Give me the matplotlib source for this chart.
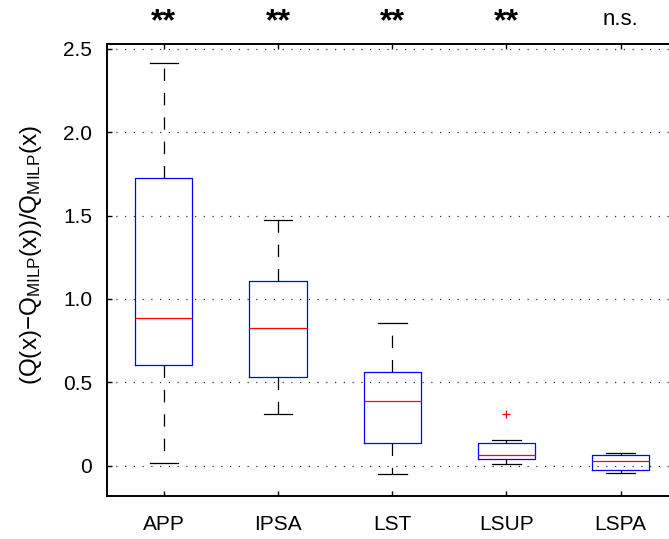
import matplotlib
matplotlib.use("Agg")
import matplotlib.pyplot as plt
import matplotlib.transforms as mtransforms

plt.rcParams['font.family'] = ['Liberation Sans', 'DejaVu Sans']
plt.rcParams['mathtext.fontset'] = 'custom'
plt.rcParams['mathtext.rm'] = 'Liberation Sans'
plt.rcParams['mathtext.it'] = 'Liberation Sans:italic'

# Methods compared against the MILP reference
methods = ["APP", "IPSA", "LST", "LSUP", "LSPA"]
significance = ["**", "**", "**", "**", "n.s."]

# Five-number summaries of the relative gap per method
whisker_low = [0.018, 0.311, -0.053, 0.009, -0.047]
q1 = [0.603, 0.533, 0.135, 0.041, -0.029]
median = [0.887, 0.825, 0.389, 0.065, 0.025]
q3 = [1.724, 1.109, 0.563, 0.137, 0.065]
whisker_high = [2.414, 1.472, 0.853, 0.151, 0.073]
outliers = [[], [], [], [0.309], []]

yticks = [0, 0.5, 1.0, 1.5, 2.0, 2.5]
ytick_labels = ["0", "0.5", "1.0", "1.5", "2.0", "2.5"]

stats = []
for i, name in enumerate(methods):
    stats.append(dict(label=name, whislo=whisker_low[i], q1=q1[i], med=median[i],
                      q3=q3[i], whishi=whisker_high[i], fliers=outliers[i]))

fig = plt.figure(figsize=(6.69, 5.39), dpi=100)
left, right, top, bottom = 106.7 / 669, 677.8 / 669, 44 / 539, 495.5 / 539
ax = fig.add_axes([left, 1 - bottom, right - left, bottom - top])

positions = list(range(1, len(methods) + 1))
ax.bxp(stats, positions=positions, widths=0.5,
       boxprops=dict(color=(0, 0, 1), linewidth=0.9),
       medianprops=dict(color=(1, 0, 0), linewidth=0.9),
       whiskerprops=dict(color='black', linewidth=0.9, linestyle=(0, (10, 9.5))),
       capprops=dict(color='black', linewidth=0.9),
       flierprops=dict(marker='+', markeredgecolor='red', markersize=6,
                       markeredgewidth=0.9, linestyle='none'),
       manage_ticks=False)

ax.set_xlim(0.5, 5.5)
ax.set_ylim(-0.180, 2.530)
ax.set_xticks(positions)
ax.set_xticklabels(methods)
ax.set_yticks(yticks)
ax.set_yticklabels(ytick_labels)

ax.yaxis.grid(True, linestyle=(0, (1, 6)), color='0.2', linewidth=0.9)
ax.set_axisbelow(True)

for s in ['left', 'top', 'bottom']:
    ax.spines[s].set_linewidth(1.4)
ax.spines['right'].set_visible(False)

ax.tick_params(axis='both', direction='in', length=3.6, width=1.0,
               labelsize=15, colors='black')
ax.tick_params(axis='x', top=True, pad=14)
ax.tick_params(axis='y', pad=10.5)

ax.set_ylabel("(Q(x)\u2212Q$_{\\mathrm{MILP}}$(x))/Q$_{\\mathrm{MILP}}$(x)", fontsize=17.5)
ax.yaxis.set_label_coords(-0.11, 0.533)

trans = mtransforms.blended_transform_factory(ax.transData, fig.transFigure)
for x, s in zip(positions, significance):
    if s == "**":
        ax.text(x, 1 - 22 / 539, s, transform=trans, ha='center', va='center',
                fontsize=23, fontweight='bold', clip_on=False)
    else:
        ax.text(x, 1 - 25 / 539, s, transform=trans, ha='center', va='baseline',
                fontsize=16, clip_on=False)

fig.savefig("out.png", dpi=100)
